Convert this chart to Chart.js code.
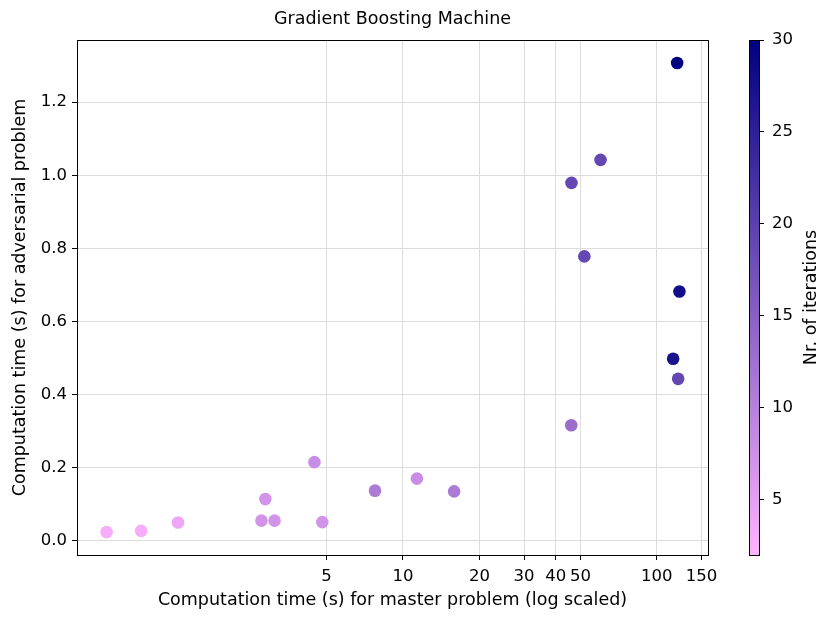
<!DOCTYPE html>
<html>
<head>
<meta charset="utf-8">
<script src="https://cdn.jsdelivr.net/npm/chart.js@4.4.1/dist/chart.umd.min.js"></script>
<style>
  html, body { margin: 0; padding: 0; background: #fff; }
  #wrap { position: relative; width: 830px; height: 622px; }
  #main { position: absolute; left: 0; top: 0; }
  #cbar { position: absolute; left: 740px; top: 0; }
</style>
</head>
<body>
<div id="wrap">
  <canvas id="main" width="740" height="622"></canvas>
  <canvas id="cbar" width="90" height="622"></canvas>
</div>
<script>
'use strict';

// ── dados ───────────────────────────────────────────────────────────────────
const MASTER_TIME = [0.68, 0.93, 1.30, 2.77, 3.12, 2.87, 4.48, 4.81, 7.76, 11.35, 15.9,
                     46.0, 60.0, 46.1, 51.8, 122.7, 115.9, 121.3, 120.2];
const ADV_TIME    = [0.024, 0.027, 0.050, 0.055, 0.055, 0.114, 0.215, 0.051, 0.137, 0.170, 0.135,
                     0.316, 1.042, 0.979, 0.778, 0.682, 0.498, 0.443, 1.307];
const ITERATIONS  = [3, 3, 4, 7, 7, 7, 8, 7, 11, 8, 11,
                     13, 19, 19, 19, 28, 27, 19, 30];

const X_TICKS  = [5, 10, 20, 30, 40, 50, 100, 150];
const Y_TICKS  = [0, 0.2, 0.4, 0.6, 0.8, 1.0, 1.2];
const CB_TICKS = [5, 10, 15, 20, 25, 30];
const CB_MIN = 2;
const CB_MAX = 30;

// ── cores ───────────────────────────────────────────────────────────────────
const CMAP_LOW  = [255, 180, 255];
const CMAP_HIGH = [0, 0, 128];
const GRID = '#dcdcdc';
const FONT = 'DejaVu Sans';
const TICK_SIZE = 16.5;
const LABEL_SIZE = 17.5;

function cmap(v) {
    const t = Math.min(1, Math.max(0, (v - CB_MIN) / (CB_MAX - CB_MIN)));
    const c = CMAP_LOW.map((lo, i) => Math.round(lo + (CMAP_HIGH[i] - lo) * t));
    return `rgb(${c[0]},${c[1]},${c[2]})`;
}

// moldura completa em volta da área
const framePlugin = {
    id: 'frame',
    afterDraw(chart) {
        const { ctx, chartArea: a } = chart;
        ctx.save();
        ctx.strokeStyle = '#000';
        ctx.lineWidth = 1;
        ctx.strokeRect(Math.round(a.left) + 0.5, Math.round(a.top) + 0.5,
                       Math.round(a.right - a.left), Math.round(a.bottom - a.top));
        ctx.restore();
    },
};

// ── gráfico principal ───────────────────────────────────────────────────────
const points = MASTER_TIME.map((x, i) => ({ x, y: ADV_TIME[i] }));

new Chart(document.getElementById('main'), {
    type: 'scatter',
    data: {
        datasets: [{
            data: points,
            pointRadius: 6.3,
            pointHoverRadius: 6.3,
            pointBorderWidth: 0,
            pointBackgroundColor: ITERATIONS.map(cmap),
        }],
    },
    options: {
        responsive: false,
        animation: false,
        devicePixelRatio: 1,
        layout: { padding: { left: 0, right: 32, top: 0, bottom: 0 } },
        plugins: {
            legend: { display: false },
            tooltip: { enabled: false },
            title: {
                display: true,
                fullSize: false,
                text: 'Gradient Boosting Machine',
                color: '#000',
                font: { family: FONT, size: LABEL_SIZE, weight: 'normal' },
                padding: { top: 9, bottom: 10 },
            },
        },
        scales: {
            x: {
                type: 'logarithmic',
                min: 0.52,
                max: 159,
                afterBuildTicks: s => { s.ticks = X_TICKS.map(v => ({ value: v })); },
                afterFit: s => { s.height = 67; },
                ticks: {
                    color: '#000',
                    font: { family: FONT, size: TICK_SIZE },
                    padding: 7,
                    maxRotation: 0,
                    autoSkip: false,
                    callback: v => String(v),
                },
                grid: { color: GRID, tickColor: '#000', tickLength: 5 },
                border: { color: '#000', width: 1 },
                title: {
                    display: true,
                    text: 'Computation time (s) for master problem (log scaled)',
                    color: '#000',
                    font: { family: FONT, size: LABEL_SIZE },
                    padding: { bottom: 11 },
                },
            },
            y: {
                min: -0.039,
                max: 1.37,
                afterBuildTicks: s => { s.ticks = Y_TICKS.map(v => ({ value: v })); },
                afterFit: s => { s.width = 77; },
                ticks: {
                    color: '#000',
                    font: { family: FONT, size: TICK_SIZE },
                    padding: 5,
                    callback: v => Number(v).toFixed(1),
                },
                grid: { color: GRID, tickColor: '#000', tickLength: 5 },
                border: { color: '#000', width: 1 },
                title: {
                    display: true,
                    text: 'Computation time (s) for adversarial problem',
                    color: '#000',
                    font: { family: FONT, size: LABEL_SIZE },
                    padding: { top: 10 },
                },
            },
        },
    },
    plugins: [framePlugin],
});

// ── barra de cores ──────────────────────────────────────────────────────────
const cbLabelPlugin = {
    id: 'cbLabel',
    afterDraw(chart) {
        const { ctx, chartArea: a } = chart;
        ctx.save();
        ctx.translate(71, (a.top + a.bottom) / 2);
        ctx.rotate(-Math.PI / 2);
        ctx.fillStyle = '#000';
        ctx.font = `${LABEL_SIZE}px "${FONT}"`;
        ctx.textAlign = 'center';
        ctx.textBaseline = 'middle';
        ctx.fillText('Nr. of iterations', 0, 0);
        ctx.restore();
    },
};

new Chart(document.getElementById('cbar'), {
    type: 'bar',
    data: {
        labels: ['cb'],
        datasets: [{
            data: [[CB_MIN, CB_MAX]],
            barPercentage: 1,
            categoryPercentage: 1,
            borderWidth: 0,
            backgroundColor: ctx => {
                const chart = ctx.chart;
                const y = chart.scales.y;
                if (!chart.chartArea || !y) return cmap(CB_MIN);
                const g = chart.ctx.createLinearGradient(0, y.getPixelForValue(CB_MIN), 0, y.getPixelForValue(CB_MAX));
                g.addColorStop(0, cmap(CB_MIN));
                g.addColorStop(1, cmap(CB_MAX));
                return g;
            },
        }],
    },
    options: {
        responsive: false,
        animation: false,
        devicePixelRatio: 1,
        layout: { padding: { left: 9, right: 0, top: 40, bottom: 67 } },
        plugins: { legend: { display: false }, tooltip: { enabled: false } },
        scales: {
            x: { display: false },
            y: {
                position: 'right',
                min: CB_MIN,
                max: CB_MAX,
                afterBuildTicks: s => { s.ticks = CB_TICKS.map(v => ({ value: v })); },
                afterFit: s => { s.width = 71; },
                ticks: { color: '#000', font: { family: FONT, size: TICK_SIZE }, padding: 8 },
                grid: { drawOnChartArea: false, tickColor: '#000', tickLength: 5 },
                border: { color: '#000', width: 1 },
            },
        },
    },
    plugins: [framePlugin, cbLabelPlugin],
});
</script>
</body>
</html>
